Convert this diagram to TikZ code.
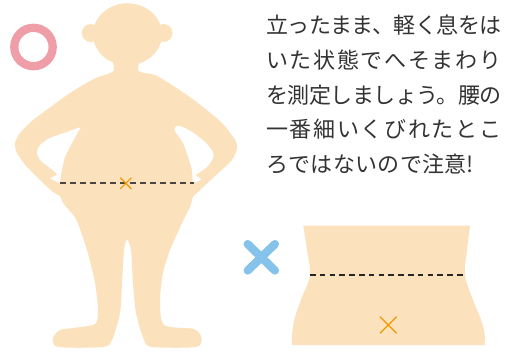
\documentclass[tikz,border=0pt]{standalone}
\usepackage{fontspec}
\newfontfamily\jpfont{Noto Sans CJK JP}
\definecolor{skinc}{HTML}{FBE1BC}
\definecolor{okpink}{HTML}{EF9DA7}
\definecolor{ngblue}{HTML}{86C3EB}
\definecolor{markorange}{HTML}{F39800}
\definecolor{inkgray}{HTML}{333333}
\definecolor{dashgray}{HTML}{4A4742}
\begin{document}
\begin{tikzpicture}[x=1pt,y=-1pt,
  skin/.style={fill=skinc},
  gap/.style={fill=white},
  dashline/.style={draw=dashgray,line width=1.7pt,dash pattern=on 6pt off 4pt},
  thindash/.style={draw=black!85,line width=1.3pt,dash pattern=on 5.5pt off 4.3pt},
  xmarkst/.style={draw=markorange,line width=1.2pt},
  jptext/.style={font=\jpfont\fontsize{22}{22}\selectfont,text=inkgray,inner sep=0pt,anchor=base west}]
\useasboundingbox (0,0) rectangle (513,351);

% ---- standing figure ----
\fill[skin] (127.5,34.3) ellipse[x radius=34.5,y radius=31];
\fill[skin] (90.8,33) circle[radius=9];
\fill[skin] (163.5,33) circle[radius=9];
\fill[skin] plot[smooth cycle,tension=.45] coordinates {
  (113.5,55) (113.5,71) (97,77.5) (83,85) (67,95) (50,107.5) (33,120) (20,133)
  (15,143) (17,153) (27,167) (40,180) (53,192) (60,196) (63,203) (70,211)
  (77,221) (87,250) (95,283) (98,310) (95,324) (73,328) (60,330) (53,338)
  (58,347) (103,347) (112,340) (120,313) (122,283) (124,250) (127,239.5)
  (131,250) (133,283) (136,313) (144,340) (152,347) (196,347) (201.5,338)
  (194,329) (164,325) (160,300) (163,273) (170,250) (183,221) (190,207)
  (193,197) (198,192) (215,176) (232,160) (237,148) (235,140) (222,123)
  (198,103) (175,87) (155,75) (138.5,71) (138.5,55)};
% gaps between arms and body
\fill[gap] plot[smooth,tension=.5] coordinates {
  (60.5,183.5) (60.5,178) (62,170) (65,157) (72,143) (78,132) (80,127.5)
  (67,132) (50,138) (40,145) (37,152) (40,160) (50,168) (57.5,174.5)}
  -- (50,178.5) -- cycle;
\fill[gap] plot[smooth,tension=.5] coordinates {
  (192.5,183.5) (192.5,178) (192,170) (188,157) (183,143) (175.5,132) (175,127.5)
  (180,126) (192,132) (205,142) (213,152) (213,158) (207,167) (195.5,175)}
  -- (201.5,179.5) -- cycle;

% navel line and mark
\coordinate (navelL) at (59.5,182.7);
\coordinate (navelR) at (193.5,182.7);
\draw[dashline] (navelL) -- (navelR);
\coordinate (navel) at (125.8,183.3);
\draw[xmarkst] (navel) +(-5.6,-5.6) -- +(5.6,5.6) (navel) +(-5.6,5.6) -- +(5.6,-5.6);

% ---- correct / wrong signs ----
\coordinate (okc) at (33.5,47);
\draw[okpink,line width=8.3pt] (okc) circle[radius=19.2];
\coordinate (ngc) at (261.3,257.3);
\draw[ngblue,line width=8.3pt,line cap=round] (ngc) +(-13.6,-13.2) -- +(13.6,13.2) (ngc) +(-13.6,13.2) -- +(13.6,-13.2);

% ---- waist close-up ----
\fill[skin] (292.3,345) -- plot[smooth,tension=.6] coordinates {
  (292.3,345) (292.3,333) (295,317) (302,297) (310,275) (307,250) (303.3,225.7)}
  -- plot[smooth,tension=.6] coordinates {
  (470,225.7) (467,250) (465,275) (473,300) (480,317) (484.5,333) (484.5,345)}
  -- cycle;
\coordinate (waistL) at (310,275);
\coordinate (waistR) at (465,275);
\draw[thindash] (waistL) -- (waistR);
\coordinate (lowmark) at (388.3,325);
\draw[xmarkst] (lowmark) +(-8.3,-8.3) -- +(8.3,8.3) (lowmark) +(-8.3,8.3) -- +(8.3,-8.3);

% ---- caption ----
\node[jptext] (t1) at (266,33.5) {\addfontfeature{LetterSpace=-2.3}立ったまま、軽く息をは};
\node[jptext] (t2) at (266,68) {\addfontfeature{LetterSpace=7.5}いた状態でへそまわり};
\node[jptext] (t3) at (266,103) {\addfontfeature{LetterSpace=-2.3}を測定しましょう。腰の};
\node[jptext] (t4) at (266,137.5) {\addfontfeature{LetterSpace=7.5}一番細いくびれたとこ};
\node[jptext] (t5) at (266,172) {\addfontfeature{LetterSpace=1.4}ろではないので注意!};
\end{tikzpicture}
\end{document}
